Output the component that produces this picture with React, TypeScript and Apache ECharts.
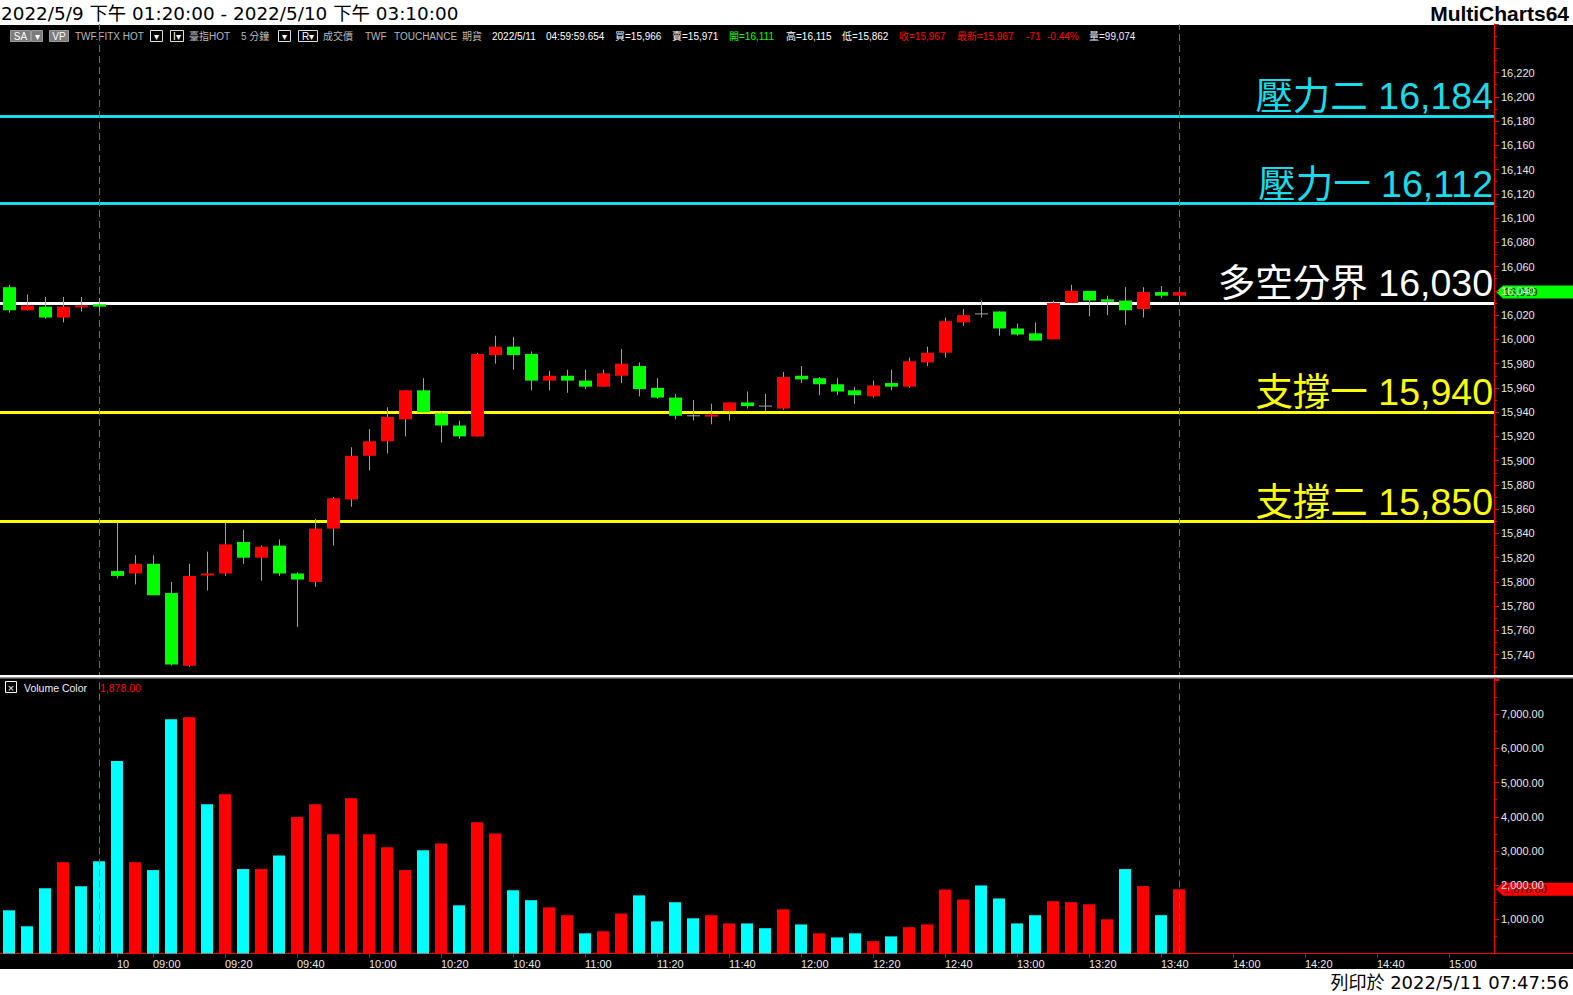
import React, { useEffect, useRef } from "react";
import * as echarts from "echarts";

// ---- time slots (5-minute bars) ----
const day1Times = ["13:20", "13:25", "13:30", "13:35", "13:40", "13:45"];
const day2Times = [
  "08:50", "08:55", "09:00", "09:05", "09:10", "09:15", "09:20", "09:25", "09:30", "09:35",
  "09:40", "09:45", "09:50", "09:55", "10:00", "10:05", "10:10", "10:15", "10:20", "10:25",
  "10:30", "10:35", "10:40", "10:45", "10:50", "10:55", "11:00", "11:05", "11:10", "11:15",
  "11:20", "11:25", "11:30", "11:35", "11:40", "11:45", "11:50", "11:55", "12:00", "12:05",
  "12:10", "12:15", "12:20", "12:25", "12:30", "12:35", "12:40", "12:45", "12:50", "12:55",
  "13:00", "13:05", "13:10", "13:15", "13:20", "13:25", "13:30", "13:35", "13:40", "13:45",
  "13:50", "13:55", "14:00", "14:05", "14:10", "14:15", "14:20", "14:25", "14:30", "14:35",
  "14:40", "14:45", "14:50", "14:55", "15:00", "15:05", "15:10",
];
const categories = [...day1Times, ...day2Times];
const DAY2_START = day1Times.length;
const DAY2_LABEL = "10";

// ---- OHLC ----
const opens = [
  16043, 16024, 16027, 16018, 16027, 16029,
  15809, 15807, 15815, 15791, 15731, 15806, 15807, 15833, 15820, 15830,
  15807, 15800, 15844, 15868, 15904, 15916, 15934, 15958, 15939, 15929,
  15920, 15987, 15994, 15988, 15966, 15970, 15966, 15961, 15970, 15978,
  15960, 15952, 15937, 15937, 15941, 15948, 15945, 15943, 15970, 15968,
  15963, 15958, 15953, 15964, 15961, 15981, 15989, 16014, 16021, 16023,
  16009, 16005, 16000, 16030, 16040, 16033, 16032, 16025, 16039, 16036,
];
const closes = [
  16024, 16028, 16018, 16027, 16028, 16027,
  15805, 15815, 15789, 15732, 15805, 15807, 15831, 15820, 15829, 15807,
  15802, 15844, 15869, 15904, 15916, 15936, 15958, 15940, 15929, 15920,
  15988, 15994, 15987, 15966, 15970, 15966, 15961, 15972, 15980, 15959,
  15952, 15937, 15937, 15938, 15948, 15945, 15945, 15969, 15967, 15963,
  15957, 15954, 15962, 15961, 15982, 15989, 16015, 16020, 16021, 16009,
  16004, 15999, 16030, 16040, 16032, 16031, 16024, 16039, 16036, 16039,
];
const highs = [
  16045, 16037, 16035, 16035, 16035, 16034,
  15849, 15822, 15822, 15800, 15815, 15825, 15849, 15843, 15830, 15835,
  15808, 15852, 15870, 15911, 15926, 15944, 15958, 15968, 15940, 15933,
  15989, 16003, 16002, 15990, 15974, 15975, 15975, 15975, 15992, 15981,
  15968, 15955, 15950, 15947, 15948, 15957, 15955, 15973, 15978, 15969,
  15968, 15961, 15966, 15975, 15985, 15994, 16018, 16025, 16032, 16023,
  16013, 16014, 16032, 16045, 16040, 16036, 16043, 16043, 16044, 16039,
];
const lows = [
  16022, 16024, 16017, 16014, 16023, 16023,
  15803, 15798, 15789, 15731, 15730, 15793, 15805, 15815, 15801, 15805,
  15763, 15796, 15830, 15862, 15892, 15906, 15920, 15940, 15915, 15918,
  15920, 15980, 15975, 15958, 15958, 15956, 15959, 15961, 15964, 15953,
  15951, 15934, 15933, 15930, 15933, 15943, 15941, 15942, 15964, 15954,
  15954, 15947, 15952, 15958, 15960, 15978, 15985, 16011, 16018, 16003,
  16003, 15999, 16000, 16030, 16019, 16020, 16012, 16018, 16034, 16032,
];

// ---- volume ----
const volumes = [
  1264, 796, 1908, 2670, 1967, 2700,
  5630, 2670, 2440, 6850, 6910, 4365, 4660, 2470, 2470, 2870,
  3990, 4365, 3490, 4540, 3490, 3110, 2440, 3020, 3220, 1410,
  3840, 3510, 1850, 1560, 1350, 1120, 590, 650, 1170, 1700,
  940, 1500, 1030, 1120, 880, 880, 740, 1290, 850, 590,
  470, 590, 360, 500, 770, 850, 1870, 1580, 1990, 1610,
  880, 1120, 1530, 1500, 1440, 1000, 2470, 1970, 1120, 1878,
];
// 1 = red (up) bar, 0 = cyan (down) bar
const volumeUp = [
  0, 0, 0, 1, 0, 0,
  0, 1, 0, 0, 1, 0, 1, 0, 1, 0,
  1, 1, 1, 1, 1, 1, 1, 0, 1, 0,
  1, 1, 0, 0, 1, 1, 0, 1, 1, 0,
  0, 0, 0, 1, 1, 0, 0, 1, 0, 1,
  0, 0, 1, 0, 1, 1, 1, 1, 0, 0,
  0, 0, 1, 1, 1, 1, 0, 1, 0, 1,
];

// ---- key price levels ----
const levelNames = ["壓力二", "壓力一", "多空分界", "支撐一", "支撐二"];
const levelValues = [16184, 16112, 16030, 15940, 15850];
const levelColors = ["#16dcec", "#16dcec", "#ffffff", "#ffff00", "#ffff00"];

// session-end separators (category indexes)
const sessionEnds = [5, 65];

const priceTicks = { min: 15720, max: 16260, step: 20, shownMin: 15740, shownMax: 16220 };
const volumeTicks = { min: 0, max: 8000, step: 1000 };

const W = 1573;
const H = 995;
const PLOT_RIGHT = 1494;

const RED = "#ff0000";
const GREEN = "#00ff00";
const CYAN = "#00ffff";
const WICK = "#a0a0a0";
const AXIS_TEXT = "#e8e8e8";
const LATIN = '"Liberation Sans", Arial, "Noto Sans CJK TC", sans-serif';

const fmt = (v: number) => v.toLocaleString("en-US");
const fmt2 = (v: number) =>
  v.toLocaleString("en-US", { minimumFractionDigits: 2, maximumFractionDigits: 2 });

const showTimeLabel = (i: number) => {
  if (i === DAY2_START) return true;
  if (i < DAY2_START) return false;
  const mm = categories[i].slice(3);
  return mm === "00" || mm === "20" || mm === "40";
};

// status line pieces across the top of the chart
const statusTexts: { text: string; x: number; color: string }[] = [
  { text: "TWF.FITX HOT", x: 75, color: "#b8b8b8" },
  { text: "臺指HOT", x: 189, color: "#b8b8b8" },
  { text: "5 分鐘", x: 241, color: "#b8b8b8" },
  { text: "成交價", x: 323, color: "#b8b8b8" },
  { text: "TWF", x: 365, color: "#b8b8b8" },
  { text: "TOUCHANCE", x: 394, color: "#b8b8b8" },
  { text: "期貨", x: 462, color: "#b8b8b8" },
  { text: "2022/5/11", x: 492, color: "#ffffff" },
  { text: "04:59:59.654", x: 546, color: "#ffffff" },
  { text: "買=15,966", x: 615, color: "#ffffff" },
  { text: "賣=15,971", x: 672, color: "#ffffff" },
  { text: "開=16,111", x: 729, color: "#00ff00" },
  { text: "高=16,115", x: 786, color: "#ffffff" },
  { text: "低=15,862", x: 842, color: "#ffffff" },
  { text: "收=15,967", x: 899, color: "#ff0000" },
  { text: "最新=15,967", x: 957, color: "#ff0000" },
  { text: "-71", x: 1026, color: "#ff0000" },
  { text: "-0.44%", x: 1047, color: "#ff0000" },
  { text: "量=99,074", x: 1089, color: "#e8f0ff" },
];

export default function App() {
  const ref = useRef<HTMLDivElement>(null);

  useEffect(() => {
    document.body.style.margin = "0";
    const chart = echarts.init(ref.current!, null, { renderer: "svg" });

    const candleData = opens.map((o, i) => [i, o, closes[i], lows[i], highs[i]]);

    const option: any = {
      animation: false,
      backgroundColor: "transparent",
      grid: [
        { left: 0, top: 24, width: PLOT_RIGHT, height: 655 },
        { left: 0, top: 680, width: PLOT_RIGHT, height: 273.5 },
      ],
      xAxis: [
        {
          type: "category",
          gridIndex: 0,
          data: categories,
          show: false,
        },
        {
          type: "category",
          gridIndex: 1,
          data: categories,
          axisLine: { show: true, lineStyle: { color: RED, width: 1 } },
          axisTick: {
            show: true,
            alignWithLabel: true,
            length: 4,
            interval: (i: number) => showTimeLabel(i),
            lineStyle: { color: RED },
          },
          axisLabel: {
            interval: (i: number) => showTimeLabel(i),
            formatter: (v: string, i: number) => (i === DAY2_START ? DAY2_LABEL : v),
            align: "left",
            color: AXIS_TEXT,
            fontSize: 11,
            fontFamily: LATIN,
            margin: 5,
          },
          splitLine: { show: false },
        },
      ],
      yAxis: [
        {
          type: "value",
          gridIndex: 0,
          position: "right",
          min: priceTicks.min,
          max: priceTicks.max,
          interval: priceTicks.step,
          axisLine: { show: true, lineStyle: { color: RED, width: 1 } },
          axisTick: { show: true, length: 5, lineStyle: { color: RED } },
          minorTick: { show: true, splitNumber: 2, length: 3, lineStyle: { color: RED } },
          axisLabel: {
            color: AXIS_TEXT,
            fontSize: 11,
            fontFamily: LATIN,
            margin: 7,
            formatter: (v: number) =>
              v < priceTicks.shownMin || v > priceTicks.shownMax ? "" : fmt(v),
          },
          splitLine: { show: false },
        },
        {
          type: "value",
          gridIndex: 1,
          position: "right",
          min: volumeTicks.min,
          max: volumeTicks.max,
          interval: volumeTicks.step,
          axisLine: { show: true, lineStyle: { color: RED, width: 1 } },
          axisTick: { show: true, length: 5, lineStyle: { color: RED } },
          minorTick: { show: true, splitNumber: 2, length: 3, lineStyle: { color: RED } },
          axisLabel: {
            color: AXIS_TEXT,
            fontSize: 11,
            fontFamily: LATIN,
            margin: 7,
            formatter: (v: number) => (v <= volumeTicks.min || v >= volumeTicks.max ? "" : fmt2(v)),
          },
          splitLine: { show: false },
        },
      ],
      series: [
        {
          type: "custom",
          name: "price",
          xAxisIndex: 0,
          yAxisIndex: 0,
          data: candleData,
          encode: { x: 0, y: [1, 2, 3, 4] },
          z: 5,
          renderItem: (_params: any, api: any) => {
            const i = api.value(0);
            const o = api.value(1);
            const c = api.value(2);
            const l = api.value(3);
            const h = api.value(4);
            const pO = api.coord([i, o]);
            const pC = api.coord([i, c]);
            const pL = api.coord([i, l]);
            const pH = api.coord([i, h]);
            const cx = Math.floor(pO[0]) + 0.5;
            const children: any[] = [
              {
                type: "line",
                shape: { x1: cx, y1: pH[1], x2: cx, y2: pL[1] },
                style: { stroke: WICK, lineWidth: 1 },
              },
            ];
            if (o === c) {
              children.push({
                type: "line",
                shape: { x1: cx - 6.5, y1: pO[1], x2: cx + 6.5, y2: pO[1] },
                style: { stroke: WICK, lineWidth: 1 },
              });
            } else {
              const top = Math.min(pO[1], pC[1]);
              const hgt = Math.max(Math.abs(pO[1] - pC[1]), 2);
              children.push({
                type: "rect",
                shape: { x: cx - 6.5, y: top, width: 13, height: hgt },
                style: { fill: c > o ? RED : GREEN },
              });
            }
            return { type: "group", children };
          },
        },
        {
          type: "line",
          name: "levels",
          xAxisIndex: 0,
          yAxisIndex: 0,
          data: [],
          symbol: "none",
          z: 3,
          markLine: {
            silent: true,
            symbol: "none",
            data: [
              ...levelValues.map((v, k) => ({
                yAxis: v,
                lineStyle: { color: levelColors[k], width: 3, type: "solid" },
                label: {
                  show: true,
                  position: "insideEndTop",
                  formatter: `${levelNames[k]} ${fmt(v)}`,
                  color: levelColors[k],
                  fontSize: 37.5,
                  fontFamily: LATIN,
                  distance: 1,
                },
              })),
              ...sessionEnds.map((idx) => ({
                xAxis: idx,
                lineStyle: { color: "#6e6e6e", width: 1, type: [7, 4] },
                label: { show: false },
              })),
            ],
          },
        },
        {
          type: "bar",
          name: "volume",
          xAxisIndex: 1,
          yAxisIndex: 1,
          barWidth: 12,
          data: volumes.map((v, i) => ({
            value: v,
            itemStyle: { color: volumeUp[i] ? RED : CYAN },
          })),
          markLine: {
            silent: true,
            symbol: "none",
            data: sessionEnds.map((idx) => ({
              xAxis: idx,
              lineStyle: { color: "#6e6e6e", width: 1, type: [7, 4] },
              label: { show: false },
            })),
          },
        },
      ],
    };
    chart.setOption(option);

    const lastClose = closes[closes.length - 1];
    const lastVolume = volumes[volumes.length - 1];
    const yPrice = chart.convertToPixel({ yAxisIndex: 0 }, lastClose) as number;
    const yVol = chart.convertToPixel({ yAxisIndex: 1 }, lastVolume) as number;

    const tag = (y: number, fill: string, text: string, textColor: string, id: string) => ({
      type: "group",
      id,
      z: 50,
      children: [
        {
          type: "polygon",
          shape: {
            points: [
              [PLOT_RIGHT + 2, y],
              [PLOT_RIGHT + 9, y - 6.5],
              [W, y - 6.5],
              [W, y + 6.5],
              [PLOT_RIGHT + 9, y + 6.5],
            ],
          },
          style: { fill },
        },
        {
          type: "text",
          x: PLOT_RIGHT + 10,
          y,
          style: {
            text,
            fill: textColor,
            font: `11px ${LATIN}`,
            textVerticalAlign: "middle",
          },
        },
      ],
    });

    const boxed = (x: number, w: number, label: string, filled: boolean) => ({
      type: "group",
      children: [
        {
          type: "rect",
          shape: { x: x + 0.5, y: 30.5, width: w, height: 11 },
          style: { fill: filled ? "#7c7c7c" : "#000000", stroke: filled ? "#9a9a9a" : "#e0e0e0", lineWidth: 1 },
        },
        {
          type: "text",
          x: x + w / 2 + 0.5,
          y: 36.5,
          style: {
            text: label,
            fill: "#ffffff",
            font: `10px ${LATIN}`,
            textAlign: "center",
            textVerticalAlign: "middle",
          },
        },
      ],
    });

    chart.setOption({
      graphic: [
        // title strip
        {
          type: "text",
          x: 1,
          y: 13,
          style: {
            text: "2022/5/9 下午 01:20:00 - 2022/5/10 下午 03:10:00",
            fill: "#000000",
            font: '18.4px "DejaVu Sans", "Noto Sans CJK TC", sans-serif',
            textVerticalAlign: "middle",
          },
        },
        {
          type: "text",
          x: W - 4,
          y: 13,
          style: {
            text: "MultiCharts64",
            fill: "#000000",
            font: `bold 21px ${LATIN}`,
            textAlign: "right",
            textVerticalAlign: "middle",
          },
        },
        {
          type: "text",
          x: W - 4,
          y: 982,
          style: {
            text: "列印於 2022/5/11 07:47:56",
            fill: "#000000",
            font: '18px "DejaVu Sans", "Noto Sans CJK TC", sans-serif',
            textAlign: "right",
            textVerticalAlign: "middle",
          },
        },
        // status line
        boxed(10, 20, "SA", true),
        boxed(31, 11, "▾", true),
        boxed(49, 19, "VP", true),
        boxed(150, 12, "▾", false),
        boxed(170, 13, "I▾", false),
        boxed(278, 12, "▾", false),
        boxed(298, 19, "R▾", false),
        ...statusTexts.map((s) => ({
          type: "text",
          x: s.x,
          y: 36.5,
          style: {
            text: s.text,
            fill: s.color,
            font: `10px ${LATIN}`,
            textVerticalAlign: "middle",
          },
        })),
        // pane separator
        { type: "rect", shape: { x: 0, y: 675, width: W, height: 2 }, style: { fill: "#ffffff" }, z: 40 },
        { type: "rect", shape: { x: 0, y: 677, width: W, height: 1.5 }, style: { fill: "#9a9a9a" }, z: 40 },
        // time axis line continues under the scale
        {
          type: "line",
          shape: { x1: PLOT_RIGHT, y1: 953.5, x2: W, y2: 953.5 },
          style: { stroke: RED, lineWidth: 1 },
        },
        // volume legend
        {
          type: "rect",
          shape: { x: 5.5, y: 681.5, width: 11, height: 11 },
          style: { fill: "#000000", stroke: "#ffffff", lineWidth: 1 },
        },
        {
          type: "text",
          x: 11,
          y: 687.5,
          style: { text: "×", fill: "#ffffff", font: `11px ${LATIN}`, textAlign: "center", textVerticalAlign: "middle" },
        },
        {
          type: "text",
          x: 24,
          y: 687.5,
          style: { text: "Volume Color", fill: "#e8eeff", font: `10.5px ${LATIN}`, textVerticalAlign: "middle" },
        },
        {
          type: "text",
          x: 100,
          y: 687.5,
          style: { text: fmt2(lastVolume), fill: RED, font: `10.5px ${LATIN}`, textVerticalAlign: "middle" },
        },
        // last value tags
        tag(yPrice, GREEN, fmt(lastClose), "#003000", "priceTag"),
        tag(yVol, RED, fmt2(lastVolume), "#3a0000", "volTag"),
      ],
    });

    return () => chart.dispose();
  }, []);

  return (
    <div
      style={{
        position: "relative",
        width: W,
        height: H,
        background:
          "linear-gradient(to bottom, #ffffff 0px, #ffffff 25px, #000000 25px, #000000 969px, #ffffff 969px)",
      }}
    >
      <div ref={ref} style={{ width: W, height: H }} />
    </div>
  );
}
